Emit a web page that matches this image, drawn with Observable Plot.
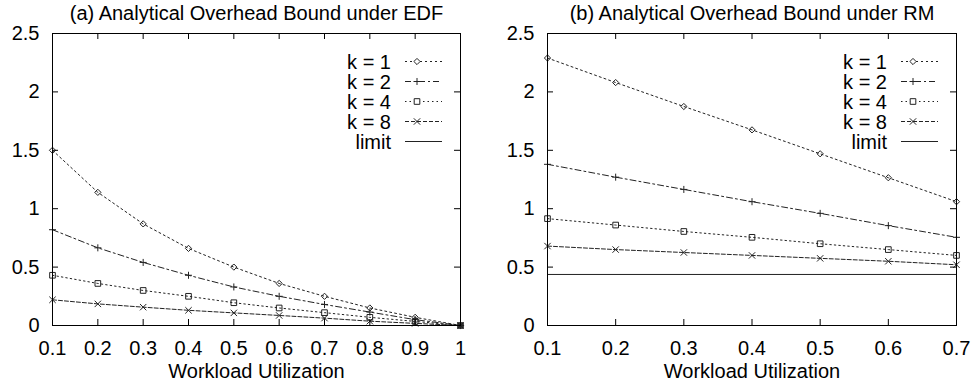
<!DOCTYPE html>
<html><head><meta charset="utf-8">
<script src="https://cdn.jsdelivr.net/npm/d3@7"></script>
<script src="https://cdn.jsdelivr.net/npm/@observablehq/plot@0.6"></script>
<style>
body{margin:0;background:#fff;font-family:"Liberation Sans",Arial,sans-serif;}
#wrap{display:flex;width:971px;height:388px;overflow:hidden;}
.panel{position:relative;flex:none;}
.panel svg.legend{position:absolute;left:0;top:0;pointer-events:none;overflow:visible;}
</style></head><body><div id="wrap"></div>
<script>
// ---- data ----
const seriesNames = ["k = 1", "k = 2", "k = 4", "k = 8"];
const limitName = "limit";
const xLabel = "Workload Utilization";
const yTicks = [0, 0.5, 1, 1.5, 2, 2.5];

const titleEDF = "(a) Analytical Overhead Bound under EDF";
const utilEDF = [0.1, 0.2, 0.3, 0.4, 0.5, 0.6, 0.7, 0.8, 0.9, 1.0];
const edfK1 = [1.50, 1.14, 0.87, 0.66, 0.50, 0.36, 0.25, 0.15, 0.07, 0.0];
const edfK2 = [0.82, 0.665, 0.54, 0.43, 0.33, 0.25, 0.18, 0.115, 0.05, 0.0];
const edfK4 = [0.43, 0.36, 0.30, 0.25, 0.195, 0.15, 0.11, 0.07, 0.035, 0.0];
const edfK8 = [0.22, 0.185, 0.157, 0.13, 0.108, 0.086, 0.063, 0.037, 0.018, 0.0];
const edfLimit = 0;
const xTicksEDF = [0.1, 0.2, 0.3, 0.4, 0.5, 0.6, 0.7, 0.8, 0.9, 1];

const titleRM = "(b) Analytical Overhead Bound under RM";
const utilRM = [0.1, 0.2, 0.3, 0.4, 0.5, 0.6, 0.7];
const rmK1 = [2.29, 2.08, 1.875, 1.675, 1.47, 1.265, 1.06];
const rmK2 = [1.38, 1.27, 1.165, 1.06, 0.96, 0.855, 0.755];
const rmK4 = [0.915, 0.86, 0.805, 0.755, 0.70, 0.65, 0.60];
const rmK8 = [0.68, 0.65, 0.625, 0.60, 0.575, 0.55, 0.52];
const rmLimit = 0.437;
const xTicksRM = [0.1, 0.2, 0.3, 0.4, 0.5, 0.6, 0.7];

// ---- styles ----
const INK = "#222";
const styles = [
  {symbol: "diamond2", d3sym: d3.symbolDiamond2, r: 2.8, dash: "2,3"},
  {symbol: "plus", d3sym: d3.symbolPlus, r: 2.4, dash: "6,3,2,3"},
  {symbol: "square2", d3sym: d3.symbolSquare2, r: 3.6, dash: "1.5,3"},
  {symbol: "times", d3sym: d3.symbolTimes, r: 3.0, dash: "4,2"}
];
const fmt = d => String(d);

function toRows(xs, ys, name) { return xs.map((x, i) => ({x, y: ys[i], series: name})); }

function panel({width, marginLeft, marginRight, title, xs, series, limit, xTicks, xDomain}) {
  const height = 388, marginTop = 33, marginBottom = 63;
  const innerW = width - marginLeft - marginRight;
  const innerH = height - marginTop - marginBottom;
  const tick = 6;
  const marks = [];
  marks.push(Plot.ruleY([limit], {y: d => d, stroke: INK, strokeWidth: 1}));
  series.forEach((ys, i) => {
    const rows = toRows(xs, ys, seriesNames[i]);
    const s = styles[i];
    marks.push(Plot.line(rows, {x: "x", y: "y", stroke: INK, strokeWidth: 1, strokeDasharray: s.dash}));
    marks.push(Plot.dot(rows, {x: "x", y: "y", symbol: s.symbol, r: s.r, stroke: INK, strokeWidth: 1, fill: "none"}));
  });
  marks.push(
    Plot.tickX(xTicks, {x: d => d, insetTop: innerH - tick, stroke: "#000"}),
    Plot.tickX(xTicks, {x: d => d, insetBottom: innerH - tick, stroke: "#000"}),
    Plot.tickY(yTicks, {y: d => d, insetRight: innerW - tick, stroke: "#000"}),
    Plot.tickY(yTicks, {y: d => d, insetLeft: innerW - tick, stroke: "#000"}),
    Plot.frame({stroke: "#000", strokeWidth: 1}),
    Plot.axisX(xTicks, {tickSize: 0, tickPadding: 15, label: null, fontSize: 20, tickFormat: fmt}),
    Plot.axisY(yTicks, {tickSize: 0, tickPadding: 13, label: null, fontSize: 20, tickFormat: fmt}),
    Plot.text([title], {frameAnchor: "top", lineAnchor: "middle", dy: -20, fontSize: 20, fill: "#000"}),
    Plot.text([xLabel], {frameAnchor: "bottom", lineAnchor: "middle", dy: 46, fontSize: 20, fill: "#000"})
  );
  const svg = Plot.plot({
    width, height, marginLeft, marginRight, marginTop, marginBottom,
    style: {fontFamily: "Liberation Sans, Arial, sans-serif", fontSize: "20px", color: "#000", background: "#fff", overflow: "visible"},
    x: {domain: xDomain},
    y: {domain: [0, 2.5]},
    marks
  });
  const div = document.createElement("div");
  div.className = "panel";
  div.style.width = width + "px";
  div.style.height = height + "px";
  div.appendChild(svg);

  // legend (top-right inside the frame)
  const frameRight = width - marginRight;
  const lg = d3.create("svg").attr("class", "legend").attr("width", width).attr("height", height);
  const textRight = frameRight - 69, lineX1 = frameRight - 55, lineX2 = frameRight - 18, symX = frameRight - 43;
  const rowY = i => 61.5 + 20 * i;
  const g = lg.append("g").attr("font-family", "Liberation Sans, Arial, sans-serif").attr("font-size", 20);
  const legendItems = seriesNames.map((n, i) => ({name: n, style: styles[i]})).concat([{name: limitName, style: null}]);
  legendItems.forEach((it, i) => {
    const y = rowY(i);
    g.append("text").attr("x", textRight).attr("y", y).attr("dy", "0.35em").attr("text-anchor", "end").attr("fill", "#000").text(it.name);
    g.append("line").attr("x1", lineX1).attr("x2", lineX2).attr("y1", y).attr("y2", y)
      .attr("stroke", INK).attr("stroke-width", 1).attr("stroke-dasharray", it.style ? it.style.dash : null);
    if (it.style) {
      g.append("path").attr("transform", `translate(${symX},${y})`)
        .attr("d", d3.symbol().type(it.style.d3sym).size(it.style.r * it.style.r * Math.PI)())
        .attr("fill", it.style.d3sym === d3.symbolPlus || it.style.d3sym === d3.symbolTimes ? "none" : "#fff")
        .attr("stroke", INK).attr("stroke-width", 1);
    }
  });
  div.appendChild(lg.node());
  return div;
}

const wrap = document.getElementById("wrap");
wrap.appendChild(panel({width: 485, marginLeft: 52, marginRight: 25, title: titleEDF, xs: utilEDF,
  series: [edfK1, edfK2, edfK4, edfK8], limit: edfLimit, xTicks: xTicksEDF, xDomain: [0.1, 1]}));
wrap.appendChild(panel({width: 486, marginLeft: 62, marginRight: 15, title: titleRM, xs: utilRM,
  series: [rmK1, rmK2, rmK4, rmK8], limit: rmLimit, xTicks: xTicksRM, xDomain: [0.1, 0.7]}));
</script></body></html>
